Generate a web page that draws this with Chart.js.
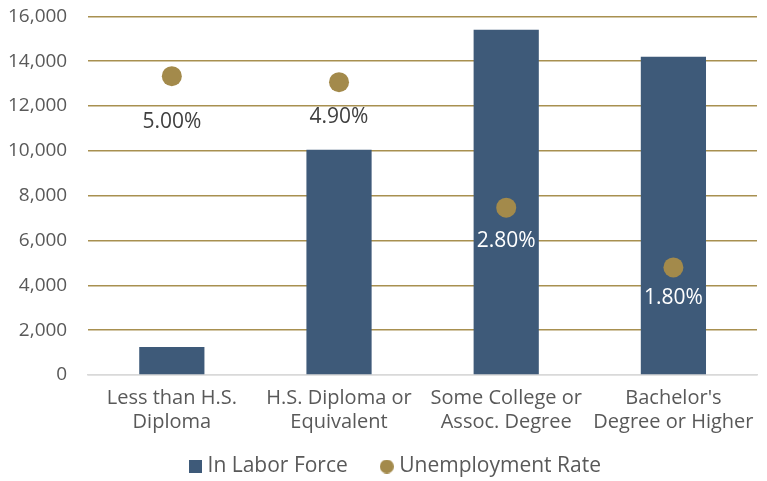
<!DOCTYPE html>
<html>
<head>
<meta charset="utf-8">
<script src="https://cdn.jsdelivr.net/npm/chart.js@4/dist/chart.umd.min.js"></script>
<style>
html,body{margin:0;padding:0;background:#fff;}
#wrap{width:767px;height:481px;position:relative;}
</style>
</head>
<body>
<div id="wrap"><canvas id="c"></canvas></div>
<script>
const categories = [["Less than H.S.", "Diploma"], ["H.S. Diploma or", "Equivalent"], ["Some College or", "Assoc. Degree"], ["Bachelor's", "Degree or Higher"]];
const laborForce = [1250, 10050, 15400, 14200];
const unemploymentRate = [5.0, 4.9, 2.8, 1.8];
const yTicks = [0, 2000, 4000, 6000, 8000, 10000, 12000, 14000, 16000];

const BAR_COLOR = '#3E5A79';
const DOT_COLOR = '#A38A4B';
const labelOffsets = [46, 35, 33, 31];
const labelColors = ['#404040', '#404040', '#ffffff', '#ffffff'];
const FONT = "'Open Sans', sans-serif";
const X_LABEL_OVERLAP = 26;
const LEGEND_SHIFT = 24;

function makeMarker(kind, size, color) {
  const cv = document.createElement('canvas');
  cv.width = size; cv.height = size;
  const g = cv.getContext('2d');
  g.fillStyle = color;
  if (kind === 'rect') { g.fillRect(0, 0, size, size); }
  else { g.beginPath(); g.arc(size / 2, size / 2, size / 2, 0, Math.PI * 2); g.fill(); }
  return cv;
}
const squareMarker = makeMarker('rect', 13, BAR_COLOR);
const circleMarker = makeMarker('circle', 14, DOT_COLOR);

const pointLabels = {
  id: 'pointLabels',
  afterLayout(chart) {
    // let the category labels extend below the space reserved for them
    chart.scales.x.bottom += X_LABEL_OVERLAP;
    chart.legend.left += LEGEND_SHIFT;
  },
  afterDatasetsDraw(chart) {
    const meta = chart.getDatasetMeta(1);
    const ctx = chart.ctx;
    ctx.save();
    ctx.font = '21px ' + FONT;
    ctx.textAlign = 'center';
    ctx.textBaseline = 'middle';
    meta.data.forEach((pt, i) => {
      ctx.fillStyle = labelColors[i];
      ctx.fillText(unemploymentRate[i].toFixed(2) + '%', pt.x, pt.y + labelOffsets[i]);
    });
    ctx.restore();
  }
};

new Chart(document.getElementById('c'), {
  type: 'bar',
  data: {
    labels: categories,
    datasets: [
      {
        type: 'bar',
        label: 'In Labor Force',
        data: laborForce,
        backgroundColor: BAR_COLOR,
        yAxisID: 'y',
        categoryPercentage: 1.0,
        barPercentage: 0.39,
        order: 2
      },
      {
        type: 'line',
        label: 'Unemployment Rate',
        data: unemploymentRate,
        yAxisID: 'y1',
        showLine: false,
        pointRadius: 10,
        pointHoverRadius: 10,
        pointBackgroundColor: DOT_COLOR,
        pointBorderWidth: 0,
        borderColor: DOT_COLOR,
        backgroundColor: DOT_COLOR,
        pointStyle: 'circle',
        order: 1
      }
    ]
  },
  options: {
    responsive: true,
    maintainAspectRatio: false,
    animation: false,
    devicePixelRatio: 1,
    layout: { padding: { top: 0, right: 0, left: 3, bottom: -6 } },
    plugins: {
      legend: {
        position: 'bottom',
        labels: {
          usePointStyle: true,
          boxWidth: 4,
          boxHeight: 12,
          padding: 37,
          color: '#595959',
          font: { family: FONT, size: 21 },
          sort: (a, b) => a.datasetIndex - b.datasetIndex,
          generateLabels: (chart) => {
            const items = Chart.defaults.plugins.legend.labels.generateLabels(chart);
            items.forEach(it => {
              it.pointStyle = it.datasetIndex === 0 ? squareMarker : circleMarker;
            });
            return items;
          }
        }
      },
      tooltip: { enabled: false }
    },
    scales: {
      x: {
        offset: true,
        grid: { display: false, drawTicks: false },
        border: { display: true, color: '#d9d9d9', width: 1.5 },
        ticks: {
          color: '#595959',
          font: { family: FONT, size: 20, lineHeight: 1.2 },
          padding: 11,
          maxRotation: 0,
          autoSkip: false
        },
        afterFit: (axis) => { axis.height -= X_LABEL_OVERLAP; }
      },
      y: {
        min: 0,
        max: 16000,
        afterBuildTicks: (axis) => { axis.ticks = yTicks.map(v => ({ value: v })); },
        grid: {
          drawTicks: true,
          tickLength: 16,
          tickColor: 'rgba(0,0,0,0)',
          lineWidth: 1.5,
          color: (c) => (c.tick && c.tick.value === 0) ? '#d9d9d9' : '#A89050'
        },
        border: { display: false },
        ticks: {
          color: '#595959',
          font: { family: FONT, size: 19 },
          padding: 5,
          callback: (v) => v.toLocaleString('en-US')
        }
      },
      y1: {
        display: false,
        min: 0,
        max: 6,
        position: 'right'
      }
    }
  },
  plugins: [pointLabels]
});
</script>
</body>
</html>
